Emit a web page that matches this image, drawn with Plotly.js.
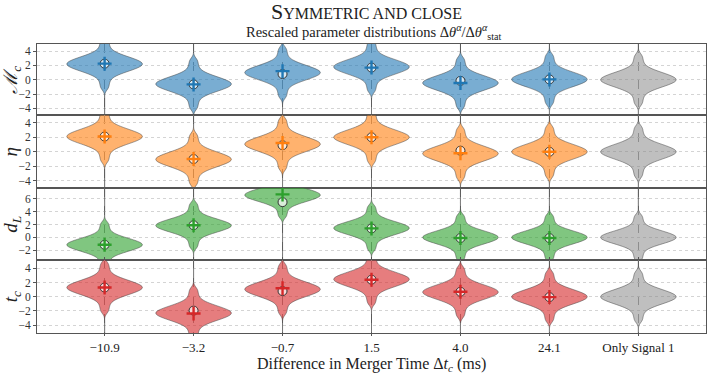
<!DOCTYPE html>
<html>
<head>
<meta charset="utf-8">
<script src="https://cdn.plot.ly/plotly-3.0.1.min.js"></script>
<style>html,body{margin:0;padding:0;background:#fff}#chart{width:708px;height:376px}</style>
</head>
<body>
<div id="chart"></div>
<script>
// Categories (difference in merger time, ms)
const categories = ['\u221210.9', '\u22123.2', '\u22120.7', '1.5', '4.0', '24.1', 'Only Signal 1'];

// Violin centres, one per category, per parameter row
const mcCentre  = [2.2, -0.6, 1.0, 1.8, -0.45, 0.05, 0.0];
const etaCentre = [2.1, -1.05, 1.05, 2.0, -0.25, 0.0, 0.0];
const dlCentre  = [-1.15, 1.85, 6.6, 1.45, 0.0, 0.0, 0.0];
const tcCentre  = [1.3, -2.3, 1.05, 2.45, 0.65, 0.0, 0.0];

// "+" markers (injected value) per row
const mcPlus  = [2.25, -0.65, 1.2, 1.7, -0.45, 0.05, null];
const etaPlus = [2.1, -1.0, 1.2, 2.0, -0.2, 0.0, null];
const dlPlus  = [-1.15, 1.9, 6.7, 1.4, -0.1, -0.1, null];
const tcPlus  = [1.3, -2.35, 1.2, 2.4, 0.7, -0.05, null];

// Dashed-circle markers per row
const mcCircle  = [2.25, -0.65, 0.8, 1.7, -0.15, 0.05, null];
const etaCircle = [2.1, -1.0, 0.9, 2.0, 0.15, 0.0, null];
const dlCircle  = [-1.15, 1.9, 5.5, 1.4, -0.1, -0.1, null];
const tcCircle  = [1.3, -1.95, 0.8, 2.4, 0.7, -0.05, null];

const shapeOffsets = [-12, -3.3, -2.6, -2.0, -1.6, -1.36, -1.18, -1.03, -0.9, -0.78, -0.68, -0.58, -0.49,
  -0.4, -0.31, -0.23, -0.15, -0.07, 0, 0.07, 0.15, 0.23, 0.31, 0.4, 0.49, 0.58, 0.68, 0.78,
  0.9, 1.03, 1.18, 1.36, 1.6, 2.0, 2.6, 3.3, 12];

const rows = [
  {centre: mcCentre,  plus: mcPlus,  circle: mcCircle,  fill: 'rgba(31,119,180,0.6)',  mark: '#1f77b4', ax: 'y'},
  {centre: etaCentre, plus: etaPlus, circle: etaCircle, fill: 'rgba(255,127,14,0.6)',  mark: '#ff7f0e', ax: 'y2'},
  {centre: dlCentre,  plus: dlPlus,  circle: dlCircle,  fill: 'rgba(44,160,44,0.6)',   mark: '#2ca02c', ax: 'y3'},
  {centre: tcCentre,  plus: tcPlus,  circle: tcCircle,  fill: 'rgba(214,39,40,0.6)',   mark: '#d62728', ax: 'y4'}
];
const grayFill = 'rgba(127,127,127,0.5)';

const traces = [];
rows.forEach(r => {
  categories.forEach((c, i) => {
    traces.push({
      type: 'violin', xaxis: 'x', yaxis: r.ax,
      x: shapeOffsets.map(() => c),
      y: shapeOffsets.map(o => r.centre[i] + o),
      fillcolor: i === categories.length - 1 ? grayFill : r.fill,
      line: {color: 'rgba(70,70,70,0.5)', width: 1},
      points: false, box: {visible: false}, meanline: {visible: false},
      width: 0.85, bandwidth: 0.42, spanmode: 'soft', scalemode: 'width',
      hoverinfo: 'skip', showlegend: false
    });
  });
  traces.push({
    type: 'scatter', mode: 'markers', xaxis: 'x', yaxis: r.ax,
    x: categories, y: r.circle, showlegend: false, hoverinfo: 'skip',
    marker: {symbol: 'circle', size: 9, color: 'rgba(255,255,255,0.7)', line: {color: '#333', width: 1}}
  });
  traces.push({
    type: 'scatter', mode: 'markers', xaxis: 'x', yaxis: r.ax,
    x: categories, y: r.plus, showlegend: false, hoverinfo: 'skip',
    marker: {symbol: 'cross-thin', size: 10, color: r.mark, line: {color: r.mark, width: 2.4}}
  });
});

const serif = 'Liberation Serif, DejaVu Serif, serif';
function yax(domain, range, tickvals, title) {
  return {
    domain: domain, range: range, tickvals: tickvals,
    showgrid: true, gridcolor: '#d4d4d4', griddash: 'dot', gridwidth: 1,
    zeroline: false, showline: true, mirror: true, linecolor: '#555', linewidth: 1,
    ticks: 'outside', ticklen: 3, tickcolor: '#555',
    tickfont: {family: serif, size: 11.5, color: '#333'},
    title: {text: title, font: {family: serif, size: 19, color: '#222'}, standoff: 4}
  };
}

const layout = {
  width: 708, height: 376,
  margin: {l: 37, r: 2, t: 44, b: 43},
  paper_bgcolor: '#fff', plot_bgcolor: '#fff',
  violinmode: 'overlay',
  xaxis: {
    type: 'category', categoryarray: categories, categoryorder: 'array',
    range: [-0.76, 6.76], anchor: 'y4',
    showgrid: true, gridcolor: '#9a9a9a', griddash: 'dash', gridwidth: 1,
    showline: true, mirror: 'all', linecolor: '#555', linewidth: 1,
    ticks: 'outside', ticklen: 2, tickcolor: '#555',
    tickfont: {family: serif, size: 13, color: '#222'}
  },
  yaxis:  yax([0.7526, 1.0], [-5, 5], [-4, -2, 0, 2, 4], '<i>\u2133<sub>c</sub></i>'),
  yaxis2: yax([0.5017, 0.7526], [-5, 5], [-4, -2, 0, 2, 4], '<i>\u03b7</i>'),
  yaxis3: yax([0.2509, 0.5017], [-3.6, 7.7], [-2, 0, 2, 4, 6], '<i>d<sub>L</sub></i>'),
  yaxis4: yax([0, 0.2509], [-5.1, 5.1], [-4, -2, 0, 2, 4], '<i>t<sub>c</sub></i>'),
  annotations: [
    {xref: 'paper', yref: 'paper', x: 0.492, y: 1.113, xanchor: 'center', yanchor: 'middle', showarrow: false,
     text: 'S<span style="font-size:16px">YMMETRIC AND CLOSE</span>',
     font: {family: serif, size: 22, color: '#222'}},
    {xref: 'paper', yref: 'paper', x: 0.503, y: 1.04, xanchor: 'center', yanchor: 'middle', showarrow: false,
     text: 'Rescaled parameter distributions \u0394<i>\u03b8</i><sup><i>\u03b1</i></sup>/\u0394<i>\u03b8</i><sup><i>\u03b1</i></sup><sub>stat</sub>',
     font: {family: serif, size: 14.5, color: '#222'}},
    {xref: 'paper', yref: 'paper', x: 0.5, y: -0.1475, xanchor: 'center', yanchor: 'bottom', showarrow: false,
     text: 'Difference in Merger Time \u0394<i>t<sub>c</sub></i> (ms)',
     font: {family: serif, size: 16, color: '#222'}}
  ]
};

Plotly.newPlot('chart', traces, layout, {displayModeBar: false, staticPlot: true});
</script>
</body>
</html>
